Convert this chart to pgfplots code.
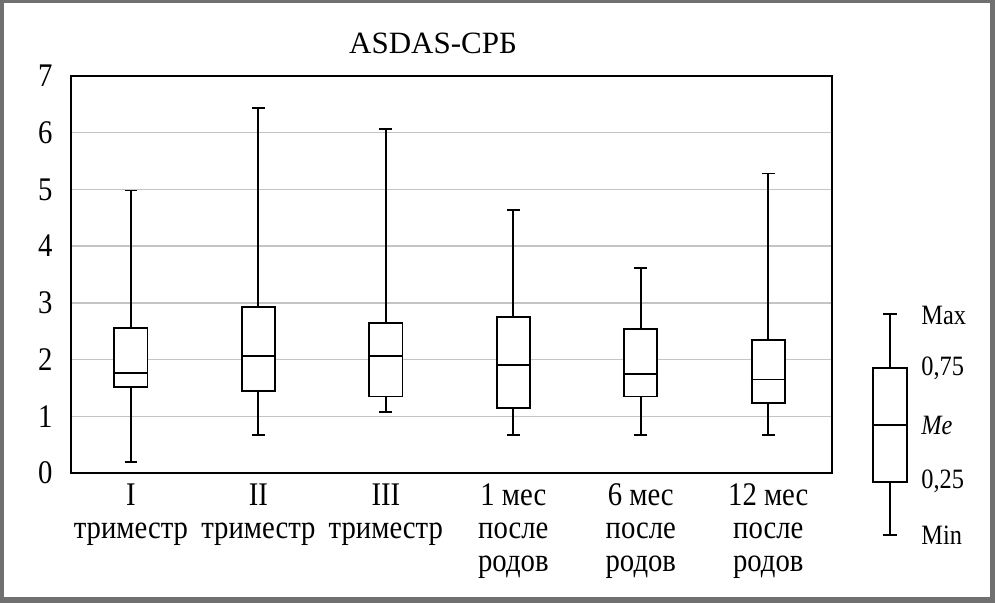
\documentclass[border=0pt]{standalone}
\usepackage{fontspec}
\setmainfont{Liberation Serif}
\newfontfamily\cond{Liberation Serif}[FakeStretch=0.87]
\usepackage{pgfplots}
\pgfplotsset{compat=1.18}
\usepgfplotslibrary{statistics}

\definecolor{framegray}{HTML}{707070}
\definecolor{gridgray}{HTML}{C4C4C4}

\pgfplotsset{
  bx/.style={black, solid, fill=white, line width=0.9pt, mark=none},
}

\begin{document}
\begin{tikzpicture}
% outer frame
\fill[framegray] (0,0) rectangle (497.5pt,301.5pt);
\fill[white] (2pt,3pt) rectangle (495pt,300pt);

% main chart
\begin{axis}[
    at={(35.5pt,65pt)}, anchor=south west,
    scale only axis, width=380.5pt, height=198.5pt,
    xmin=-0.47, xmax=5.5, ymin=0, ymax=7,
    ytick={0,1,...,7},
    xtick={0,1,...,5},
    xticklabels={{I\\триместр},{II\\триместр},{III\\триместр},
                 {1 мес\\после\\родов},{6 мес\\после\\родов},{12 мес\\после\\родов}},
    major tick length=0pt,
    ymajorgrids,
    grid style={gridgray, line width=0.75pt},
    axis line style={black, line width=0.85pt},
    /pgf/number format/assume math mode=true,
    yticklabel style={font=\cond\fontsize{16.5pt}{16.5pt}\selectfont, inner sep=0pt, xshift=-9pt},
    xticklabel style={font=\cond\fontsize{16.5pt}{16.5pt}\selectfont, align=center, inner sep=0pt, yshift=-5pt},
    boxplot/draw direction=y,
    boxplot/box extend=0.26,
    boxplot/whisker extend=0.1,
  ]
  \addplot[bx, boxplot prepared={draw position=0, lower whisker=0.19, lower quartile=1.52,
      median=1.77, upper quartile=2.55, upper whisker=4.98}] coordinates {};
  \addplot[bx, boxplot prepared={draw position=1, lower whisker=0.67, lower quartile=1.45,
      median=2.06, upper quartile=2.93, upper whisker=6.43}] coordinates {};
  \addplot[bx, boxplot prepared={draw position=2, lower whisker=1.07, lower quartile=1.35,
      median=2.06, upper quartile=2.64, upper whisker=6.07}] coordinates {};
  \addplot[bx, boxplot prepared={draw position=3, lower whisker=0.67, lower quartile=1.15,
      median=1.91, upper quartile=2.75, upper whisker=4.64}] coordinates {};
  \addplot[bx, boxplot prepared={draw position=4, lower whisker=0.67, lower quartile=1.35,
      median=1.75, upper quartile=2.54, upper whisker=3.62}] coordinates {};
  \addplot[bx, boxplot prepared={draw position=5, lower whisker=0.67, lower quartile=1.23,
      median=1.65, upper quartile=2.34, upper whisker=5.28}] coordinates {};
\end{axis}

% overlay in pixel units: title and key box
\begin{axis}[
    at={(0pt,0pt)}, anchor=south west,
    scale only axis, width=497.5pt, height=301.5pt,
    xmin=0, xmax=995, ymin=0, ymax=603,
    axis lines=none, ticks=none, clip=false,
    boxplot/draw direction=y,
    boxplot/box extend=33.3,
    boxplot/whisker extend=13.3,
  ]
  \addplot[bx, boxplot prepared={draw position=890, lower whisker=68, lower quartile=121.3,
      median=178, upper quartile=234.7, upper whisker=289}] coordinates {};
  \node[anchor=base, inner sep=0pt, font=\fontsize{15.5pt}{16pt}\selectfont]
    at (axis cs:433,549.7) {ASDAS-СРБ};
  \begin{scope}[every node/.style={anchor=west, inner sep=0pt,
      font=\cond\fontsize{14pt}{14pt}\selectfont}]
    \node at (axis cs:921,288) {Max};
    \node at (axis cs:921,235) {0,75};
    \node at (axis cs:921,178) {\itshape Me};
    \node at (axis cs:921,122) {0,25};
    \node at (axis cs:921,68) {Min};
  \end{scope}
\end{axis}
\end{tikzpicture}
\end{document}
